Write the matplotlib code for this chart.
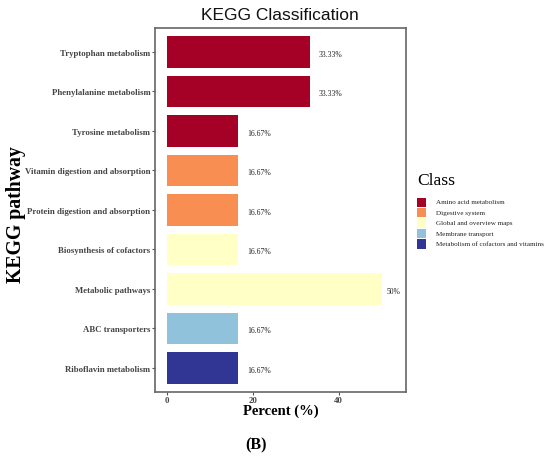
import matplotlib
matplotlib.use("Agg")
import matplotlib.pyplot as plt
from matplotlib.patches import Rectangle

# ---- data ----
pathways = ["Tryptophan metabolism", "Phenylalanine metabolism", "Tyrosine metabolism",
            "Vitamin digestion and absorption", "Protein digestion and absorption",
            "Biosynthesis of cofactors", "Metabolic pathways", "ABC transporters",
            "Riboflavin metabolism"]
percent = [33.33, 33.33, 16.67, 16.67, 16.67, 16.67, 50, 16.67, 16.67]
labels = ["33.33%", "33.33%", "16.67%", "16.67%", "16.67%", "16.67%", "50%", "16.67%", "16.67%"]
classes = ["Amino acid metabolism", "Amino acid metabolism", "Amino acid metabolism",
           "Digestive system", "Digestive system",
           "Global and overview maps", "Global and overview maps",
           "Membrane transport", "Metabolism of cofactors and vitamins"]
class_names = ["Amino acid metabolism", "Digestive system", "Global and overview maps",
               "Membrane transport", "Metabolism of cofactors and vitamins"]
class_colors = ["#A50026", "#F98E52", "#FFFFC6", "#91C2DC", "#313695"]
xticks = [0, 20, 40]

cmap = dict(zip(class_names, class_colors))
W, H = 550, 460
fig = plt.figure(figsize=(5.5, 4.6), dpi=100)
ax = fig.add_axes([155 / W, 1 - 392.5 / H, (406.5 - 155) / W, (392.5 - 29.3) / H])

n = len(pathways)
ypos = list(range(n, 0, -1))
ax.barh(ypos, percent, height=0.8, color=[cmap[c] for c in classes], edgecolor="none")
for y, v, t in zip(ypos, percent, labels):
    off = 1.2 if v >= 50 else 2.0
    ax.text(v + off, y - 0.05, t, ha="left", va="center", fontsize=5.5,
            family="Liberation Serif", color="#222222")

ax.set_xlim(-2.72, 55.8)
ax.set_ylim(0.4, n + 0.6)
ax.set_yticks(ypos)
ax.set_yticklabels(pathways, family="Liberation Serif", fontweight="bold",
                   fontsize=6.3, color="#444444")
ax.set_xticks(xticks)
ax.set_xticklabels([str(x) for x in xticks], family="Liberation Serif",
                   fontweight="bold", fontsize=6.3, color="#444444")
ax.tick_params(axis="both", length=2, width=0.8, color="#555555", pad=1.5)
for s in ax.spines.values():
    s.set_color("#666666")
    s.set_linewidth(1.2)

fig.text(280 / W, 1 - 15 / H, "KEGG Classification", ha="center", va="center",
         fontsize=12.5, family="Liberation Sans", color="#111111")
fig.text(16 / W, 1 - 215 / H, "KEGG pathway", ha="center", va="center", rotation=90,
         fontsize=14.2, family="Liberation Serif", fontweight="bold")
fig.text(281 / W, 1 - 411 / H, "Percent (%)", ha="center", va="center",
         fontsize=10.5, family="Liberation Serif", fontweight="bold")
fig.text(256 / W, 1 - 445 / H, "(B)", ha="center", va="center",
         fontsize=11.5, family="Liberation Serif", fontweight="bold")

# legend
fig.text(417 / W, 1 - 181 / H, "Class", ha="left", va="center",
         fontsize=12.6, family="Liberation Serif")
for i, (nm, col) in enumerate(zip(class_names, class_colors)):
    yc = 203 + i * 10.4
    fig.add_artist(Rectangle((417 / W, 1 - (yc + 5) / H), 9.5 / W, 9.5 / H,
                             transform=fig.transFigure, facecolor=col, edgecolor="none"))
    fig.text(436 / W, 1 - yc / H, nm, ha="left", va="center", fontsize=5.1,
             family="Liberation Serif", color="#222222")

fig.savefig("out.png", dpi=100)
